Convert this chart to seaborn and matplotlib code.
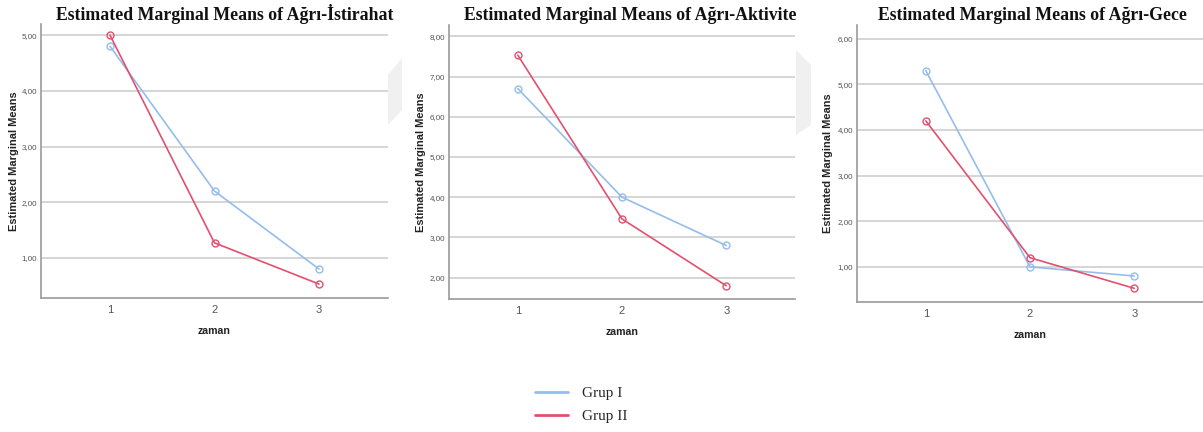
import numpy as np
import pandas as pd
import seaborn as sns
import matplotlib
matplotlib.use("Agg")
import matplotlib.pyplot as plt
from matplotlib.ticker import FuncFormatter, FixedLocator
from matplotlib.lines import Line2D
from matplotlib.patches import Polygon

# ---- data ----
zaman = [1, 2, 3]
groups = ["Grup I", "Grup II"]
titles = ["Estimated Marginal Means of Ağrı-İstirahat",
          "Estimated Marginal Means of Ağrı-Aktivite",
          "Estimated Marginal Means of Ağrı-Gece"]
istirahat_g1 = [4.80, 2.20, 0.80]
istirahat_g2 = [5.00, 1.27, 0.53]
aktivite_g1 = [6.70, 4.00, 2.80]
aktivite_g2 = [7.53, 3.46, 1.80]
gece_g1 = [5.30, 1.00, 0.80]
gece_g2 = [4.20, 1.20, 0.53]
yticks_list = [[1, 2, 3, 4, 5], [2, 3, 4, 5, 6, 7, 8], [1, 2, 3, 4, 5, 6]]
ylims = [(0.28, 5.2), (1.47, 8.28), (0.23, 6.3)]

series = [(istirahat_g1, istirahat_g2), (aktivite_g1, aktivite_g2), (gece_g1, gece_g2)]

BLUE = "#95bdec"
RED = "#e2506f"
palette = {"Grup I": BLUE, "Grup II": RED}

sns.set_theme(style="white")
plt.rcParams["font.family"] = ["Liberation Sans", "DejaVu Sans"]

W, H = 1203, 432
fig = plt.figure(figsize=(W / 100, H / 100), dpi=100)

def px(x0, y0, x1, y1):
    return [x0 / W, 1 - y1 / H, (x1 - x0) / W, (y1 - y0) / H]

rects = [px(41, 24, 388, 298), px(449, 25, 795, 299), px(857, 25, 1203, 302)]
title_x = [225, 630, 1032]
title_y = [14, 16, 16]
ylab_x = [-0.062, -0.066, -0.068]

fmt = FuncFormatter(lambda v, p: f"{v:.2f}".replace(".", ","))

for i in range(3):
    ax = fig.add_axes(rects[i])
    g1, g2 = series[i]
    df = pd.DataFrame({
        "zaman": zaman * 2,
        "value": list(g1) + list(g2),
        "grup": [groups[0]] * 3 + [groups[1]] * 3,
    })
    sns.lineplot(data=df, x="zaman", y="value", hue="grup", palette=palette,
                 marker="o", markersize=5, markerfacecolor="none",
                 markeredgewidth=1.0, linewidth=1.2, legend=False, ax=ax,
                 zorder=3)
    for line in ax.get_lines():
        line.set_markeredgecolor(line.get_color())
    ax.set_xlim(0.34, 3.66)
    ax.set_ylim(*ylims[i])
    ax.yaxis.set_major_locator(FixedLocator(yticks_list[i]))
    ax.xaxis.set_major_locator(FixedLocator(zaman))
    ax.yaxis.set_major_formatter(fmt)
    ax.grid(axis="y", color="#d2d2d2", linewidth=1.3, zorder=0)
    ax.grid(axis="x", visible=False)
    for s in ["top", "right"]:
        ax.spines[s].set_visible(False)
    for s in ["left", "bottom"]:
        ax.spines[s].set_color("#9a9a9a")
        ax.spines[s].set_linewidth(1.2)
    ax.tick_params(axis="y", length=0, pad=3, labelsize=5.8, labelcolor="#555555")
    ax.tick_params(axis="x", length=0, pad=5, labelsize=8, labelcolor="#555555")
    ax.set_xlabel("zaman", fontsize=7.6, fontweight="bold", color="#222222", labelpad=8)
    ax.set_ylabel("Estimated Marginal Means", fontsize=7.9, fontweight="bold", color="#222222")
    ax.yaxis.set_label_coords(ylab_x[i], 0.5)
    fig.text(title_x[i] / W, 1 - title_y[i] / H, titles[i], ha="center", va="center",
             fontsize=12.8, fontweight="bold", family=["Liberation Serif", "DejaVu Serif"],
             color="#111111")

# faint decorative shapes between panels
fig.patches.append(Polygon([(388 / W, 1 - 75 / H), (402 / W, 1 - 58 / H), (402 / W, 1 - 110 / H),
                            (388 / W, 1 - 125 / H)], closed=True, transform=fig.transFigure,
                           facecolor="#f0f0f0", edgecolor="none", zorder=0))
fig.patches.append(Polygon([(796 / W, 1 - 50 / H), (811 / W, 1 - 65 / H), (811 / W, 1 - 125 / H),
                            (796 / W, 1 - 135 / H)], closed=True, transform=fig.transFigure,
                           facecolor="#f0f0f0", edgecolor="none", zorder=0))

handles = [Line2D([], [], color=BLUE, linewidth=2), Line2D([], [], color=RED, linewidth=2)]
fig.legend(handles, groups, loc="center left", bbox_to_anchor=(521 / W, 1 - 405 / H),
           frameon=False, handlelength=2.2, handletextpad=0.9, labelspacing=0.6,
           prop={"family": ["Liberation Serif", "DejaVu Serif"], "size": 11})

fig.savefig("out.png", dpi=100)
